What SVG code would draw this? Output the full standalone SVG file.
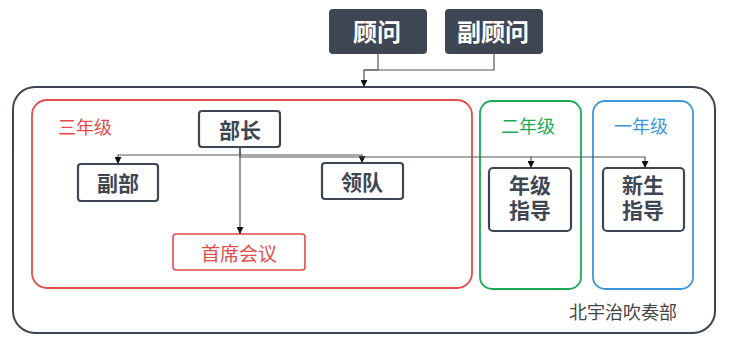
<svg xmlns="http://www.w3.org/2000/svg" width="733" height="345" viewBox="0 0 733 345">
<defs>
<marker id="arr" viewBox="0 0 10 10" refX="10" refY="5" markerWidth="7" markerHeight="7" markerUnits="userSpaceOnUse" orient="auto"><path d="M0,0 L10,5 L0,10 z" fill="#111"/></marker>
<style>
text{font-family:"Noto Sans CJK SC","Noto Sans",sans-serif;text-anchor:middle;dominant-baseline:central}
.dark{fill:#3f4653;stroke:#3f4653;stroke-width:2}
.node{fill:#fff;stroke:#3f4653;stroke-width:2.2}
.lbl{font-weight:bold;font-size:21px;fill:#3f4653}
.two{font-family:"Liberation Sans","Noto Sans CJK SC",sans-serif}
.wl{font-weight:bold;font-size:24px;fill:#fff}
.conn{fill:none;stroke:#555;stroke-width:1.2}
</style>
</defs>
<g id="outer"><rect x="13" y="87" width="702" height="246" rx="22" fill="#fff" stroke="#3f4653" stroke-width="2"/><text x="623" y="311" font-size="18" fill="#444">北宇治吹奏部</text></g>
<g id="grade3"><rect x="32" y="100" width="440" height="188" rx="15" fill="none" stroke="#e54b4b" stroke-width="1.8"/><text x="85" y="126" font-size="18" fill="#e54b4b">三年级</text></g>
<g id="grade2"><rect x="480" y="101" width="101" height="188" rx="12" fill="none" stroke="#1aaa55" stroke-width="1.8"/><text x="528" y="125" font-size="18" fill="#1aaa55">二年级</text></g>
<g id="grade1"><rect x="593" y="101" width="100" height="188" rx="12" fill="none" stroke="#3d96dc" stroke-width="1.8"/><text x="641" y="125" font-size="18" fill="#3d96dc">一年级</text></g>
<g id="guwen"><rect class="dark" x="330" y="10" width="96" height="43" rx="3"/><text class="wl" x="377" y="30">顾问</text></g>
<g id="fuguwen"><rect class="dark" x="446" y="10" width="96" height="43" rx="3"/><text class="wl" x="493" y="30">副顾问</text></g>
<g id="buzhang"><rect class="node" x="199" y="111" width="81" height="36" rx="3"/><text class="lbl" x="240" y="129">部长</text></g>
<g id="fubu"><rect class="node" x="78" y="164" width="80" height="37" rx="3"/><text class="lbl" x="118" y="182">副部</text></g>
<g id="lingdui"><rect class="node" x="322" y="163" width="81" height="36" rx="3"/><text class="lbl" x="362" y="181">领队</text></g>
<g id="shouxi"><rect x="173" y="234" width="132" height="36" rx="3" fill="#fff" stroke="#e54b4b" stroke-width="1.6"/><text x="239" y="252" font-size="19" fill="#e54b4b">首席会议</text></g>
<g id="nianji"><rect class="node" x="489" y="168" width="82" height="63" rx="4"/><text class="lbl two" x="530" y="185">年级</text><text class="lbl two" x="530" y="210">指导</text></g>
<g id="xinsheng"><rect class="node" x="603" y="168" width="81" height="63" rx="4"/><text class="lbl two" x="643" y="185">新生</text><text class="lbl two" x="643" y="210">指导</text></g>
<g id="connectors">
<path class="conn" d="M378,53 V70 H364 V87" marker-end="url(#arr)"/>
<path class="conn" d="M494,53 V70 H364"/>
<path class="conn" d="M240,147 V155 H118 V164" marker-end="url(#arr)"/>
<path class="conn" d="M240,155 H362 V163" marker-end="url(#arr)"/>
<path class="conn" d="M240,147 V157 H531 V168" marker-end="url(#arr)"/>
<path class="conn" d="M531,157 H645 V168" marker-end="url(#arr)"/>
<path class="conn" d="M240,147 V234" marker-end="url(#arr)"/>
</g>
</svg>
